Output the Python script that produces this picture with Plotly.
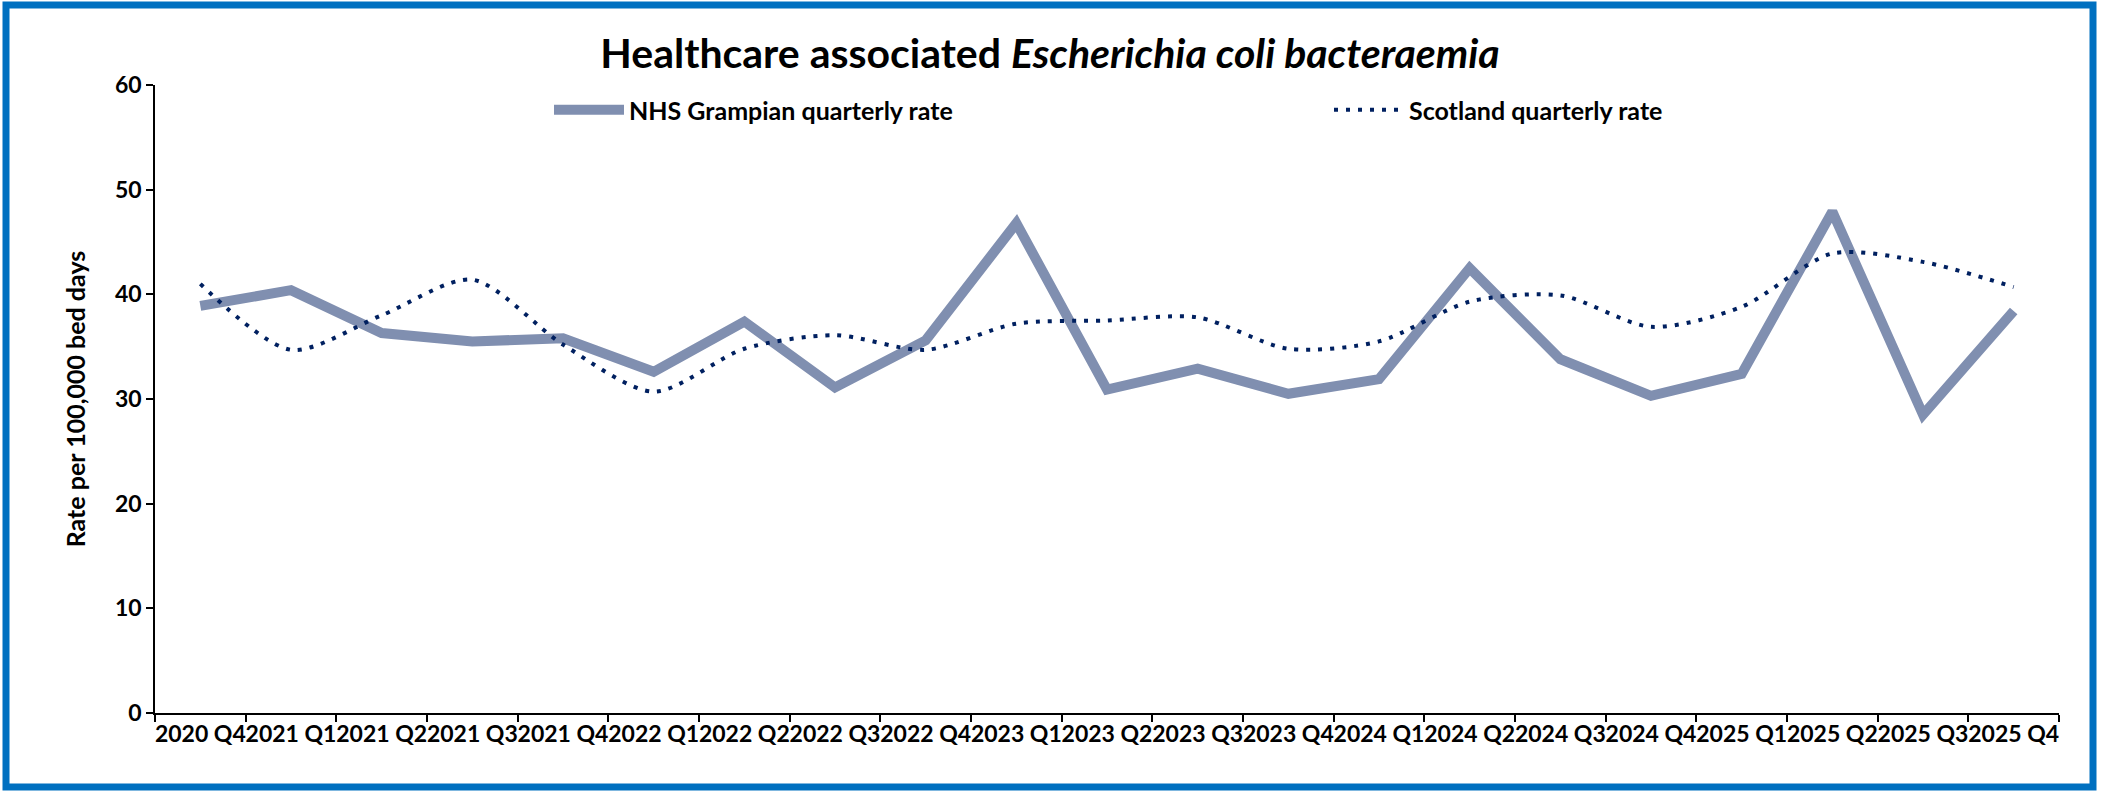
import plotly.graph_objects as go

quarters = ["2020 Q4", "2021 Q1", "2021 Q2", "2021 Q3", "2021 Q4",
            "2022 Q1", "2022 Q2", "2022 Q3", "2022 Q4",
            "2023 Q1", "2023 Q2", "2023 Q3", "2023 Q4",
            "2024 Q1", "2024 Q2", "2024 Q3", "2024 Q4",
            "2025 Q1", "2025 Q2", "2025 Q3", "2025 Q4"]
grampian_rate = [38.9, 40.4, 36.3, 35.5, 35.8, 32.6, 37.4, 31.1, 35.6, 46.8,
                 30.9, 32.9, 30.5, 31.9, 42.5, 33.8, 30.3, 32.4, 47.9, 28.5, 38.4]
scotland_rate = [41.0, 34.7, 38.0, 41.4, 35.2, 30.7, 34.8, 36.1, 34.7, 37.2,
                 37.5, 37.8, 34.8, 35.5, 39.3, 39.9, 36.9, 38.8, 43.9, 43.1, 40.7]

FW, FH = 2103, 792
ML, MR, MT, MB = 155, 44, 85, 79
PW, PH = FW - ML - MR, FH - MT - MB
FONT = "Lato"
NHS_COL = "#808FB0"
SCO_COL = "#002060"

fig = go.Figure()
fig.add_trace(go.Scatter(x=quarters, y=grampian_rate, mode="lines",
                         name="NHS Grampian quarterly rate", legend="legend",
                         line=dict(color=NHS_COL, width=10)))
fig.add_trace(go.Scatter(x=quarters, y=scotland_rate, mode="lines",
                         name="Scotland quarterly rate", legend="legend2",
                         line=dict(color=SCO_COL, width=4, dash="4px,8px",
                                   shape="spline", smoothing=0.8)))


def px_to_paper_x(v):
    return (v - ML) / PW


def px_to_paper_y(v):
    return (FH - MB - v) / PH


fig.add_shape(type="rect", xref="paper", yref="paper",
              x0=px_to_paper_x(6), x1=px_to_paper_x(2093),
              y0=px_to_paper_y(787), y1=px_to_paper_y(5),
              line=dict(color="#0070C0", width=7), layer="below")

legend_common = dict(orientation="h", xanchor="left", yanchor="middle",
                     y=px_to_paper_y(110), itemwidth=70,
                     font=dict(family=FONT, size=25, color="black", weight="bold"),
                     bgcolor="rgba(0,0,0,0)")

fig.update_layout(
    width=FW, height=FH,
    margin=dict(l=ML, r=MR, t=MT, b=MB),
    paper_bgcolor="white", plot_bgcolor="white",
    font=dict(family=FONT, color="black"),
    title=dict(text="<b>Healthcare associated <i>Escherichia coli bacteraemia</i></b>",
               x=1050 / FW, xref="container", xanchor="center",
               y=1 - 54 / FH, yref="container", yanchor="middle",
               font=dict(family=FONT, size=41, color="black")),
    legend=dict(x=px_to_paper_x(549), **legend_common),
    legend2=dict(x=px_to_paper_x(1329), **legend_common),
    showlegend=True,
)
fig.update_xaxes(type="category", range=[-0.5, 20.5], tickson="boundaries",
                 showline=True, linecolor="black", linewidth=1.5,
                 ticks="outside", ticklen=7, tickwidth=1.5, tickcolor="black",
                 showgrid=False, zeroline=False, tickangle=0,
                 tickfont=dict(family=FONT, size=23, color="black", weight="bold"))
fig.update_yaxes(range=[0, 60], tickvals=[0, 10, 20, 30, 40, 50, 60],
                 showline=True, linecolor="black", linewidth=1.5,
                 ticks="outside", ticklen=7, tickwidth=1.5, tickcolor="black",
                 showgrid=False, zeroline=False,
                 tickfont=dict(family=FONT, size=23, color="black", weight="bold"),
                 title=dict(text="<b>Rate per 100,000 bed days</b>", standoff=22,
                            font=dict(family=FONT, size=25, color="black")))

fig.write_html("out.html", post_script="document.body.style.margin='0';",
               config={"displayModeBar": False})
